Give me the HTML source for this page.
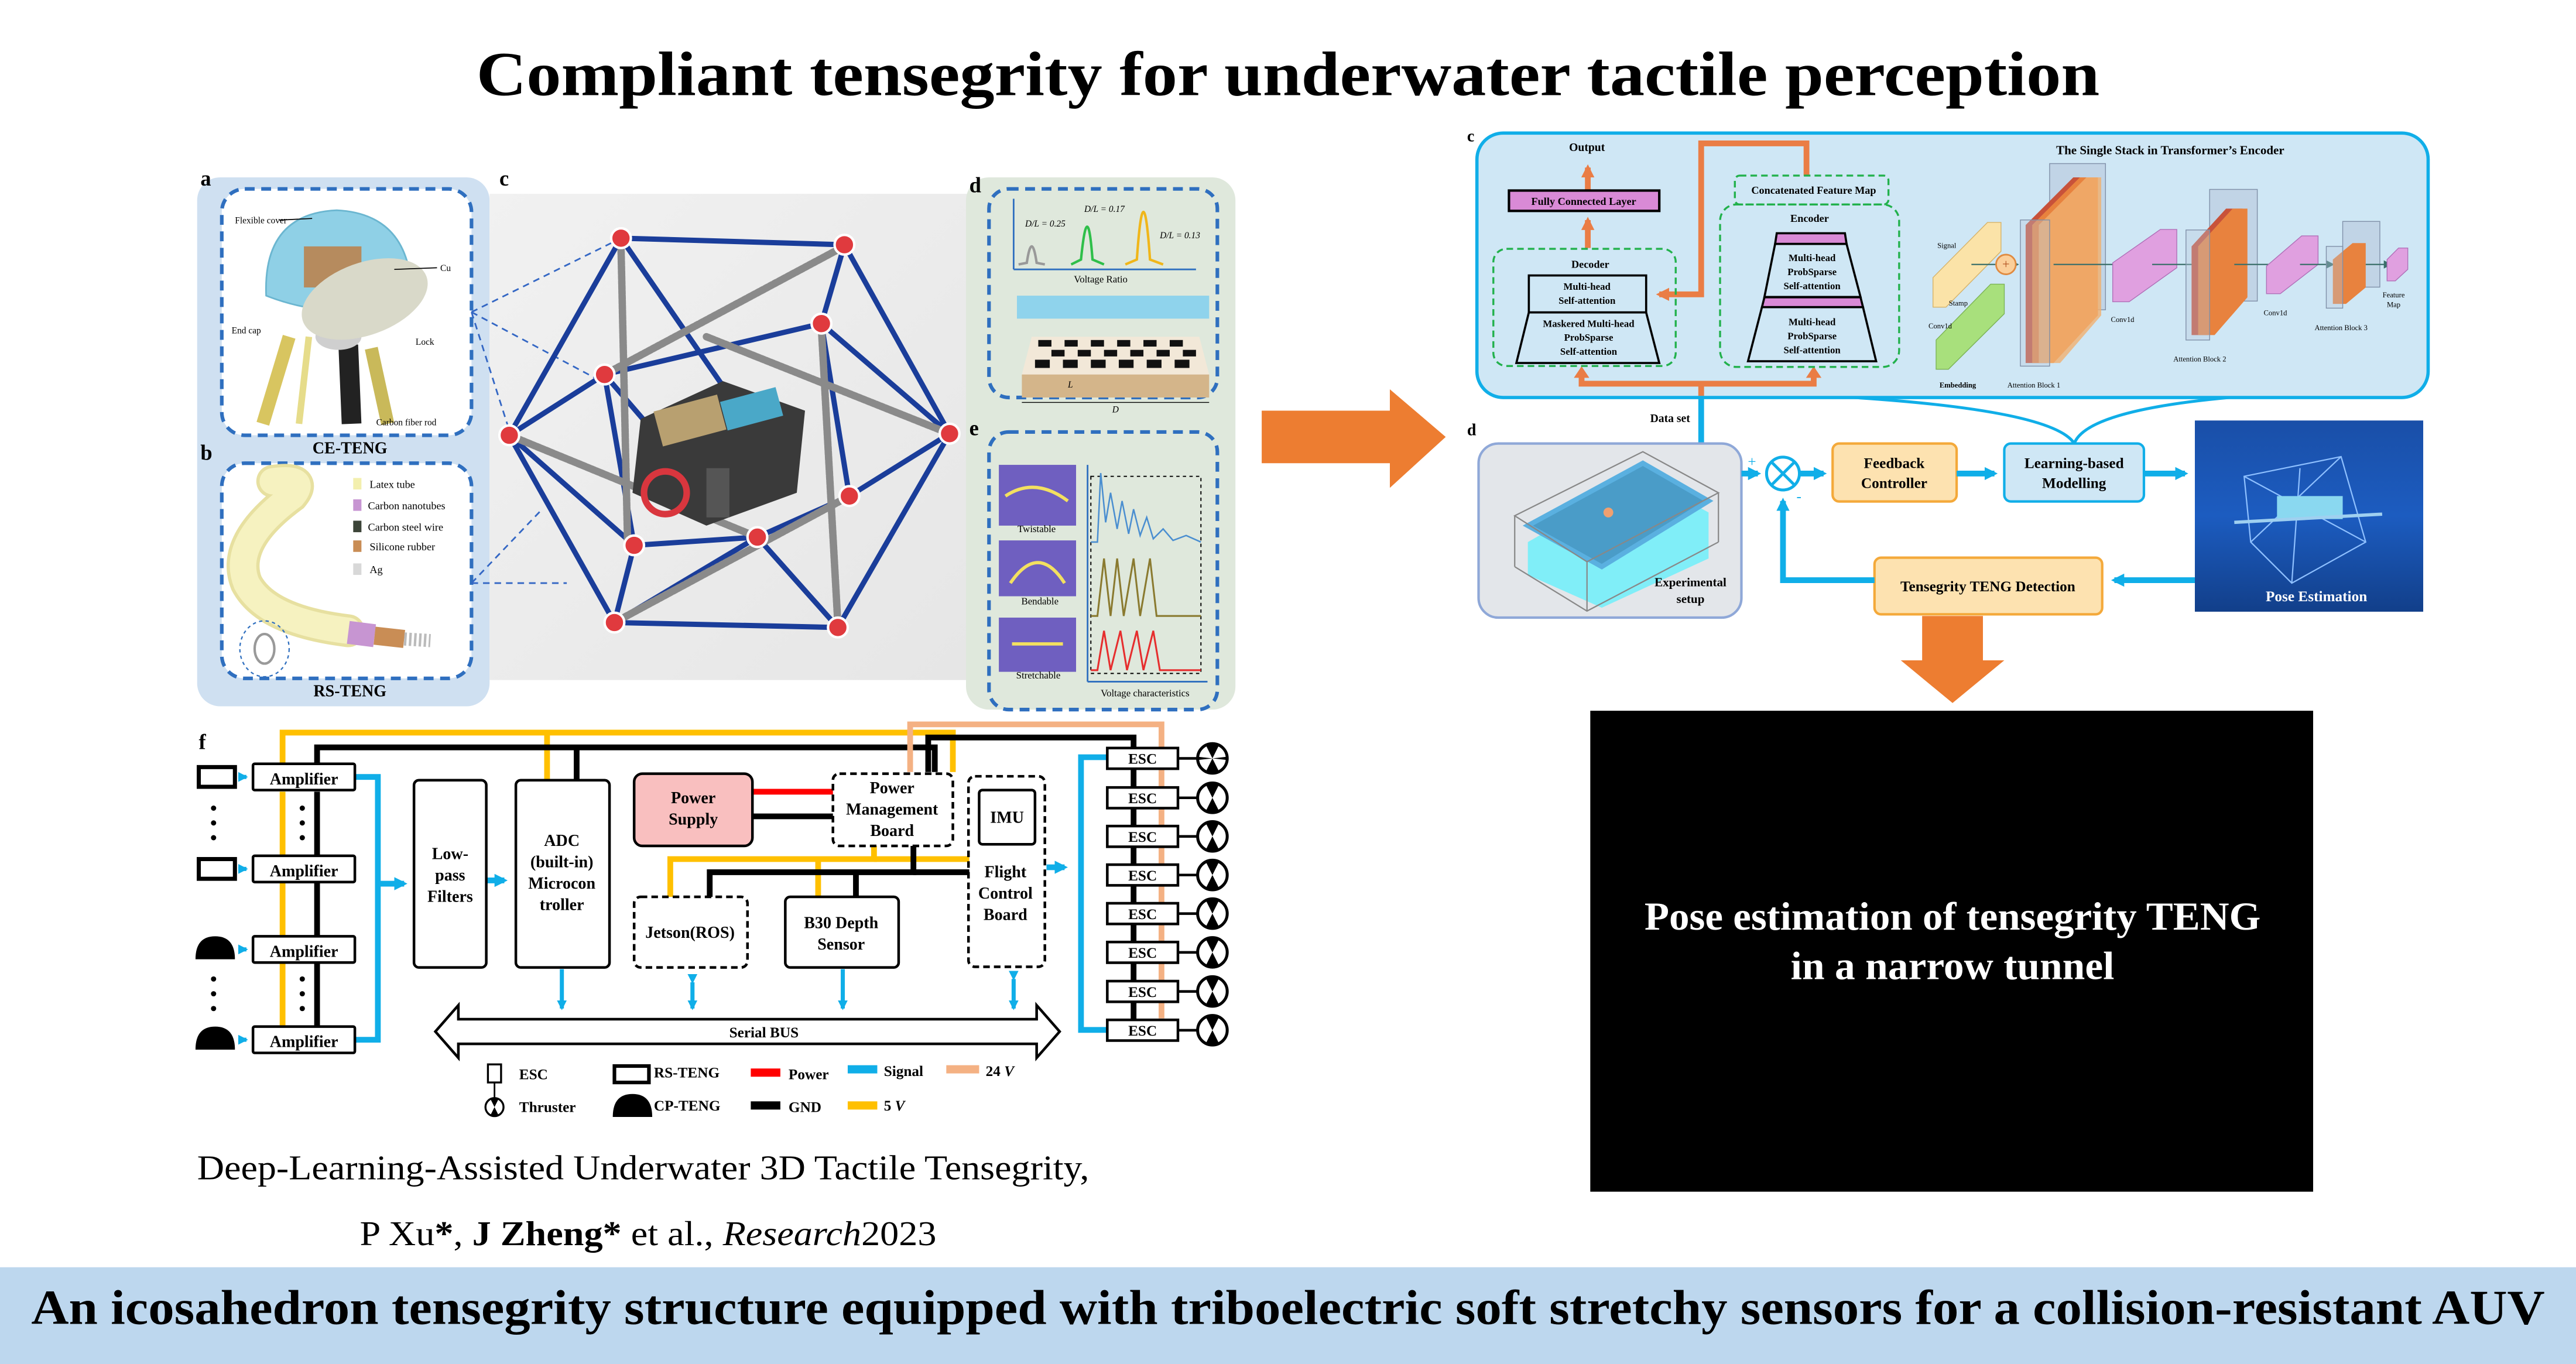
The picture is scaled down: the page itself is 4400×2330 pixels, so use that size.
<!DOCTYPE html>
<html><head><meta charset="utf-8"><style>
html,body{margin:0;padding:0;background:#fff;}
svg{display:block;}
text{font-family:"Liberation Serif",serif;}
</style></head><body>
<svg width="4400" height="2330" viewBox="0 0 1568 830.4" preserveAspectRatio="none" xmlns="http://www.w3.org/2000/svg">
<defs>
<marker id="ab" markerWidth="6" markerHeight="6" refX="5" refY="3" orient="auto" markerUnits="userSpaceOnUse"><path d="M0,0 L6,3 L0,6 z" fill="#10aee8"/></marker>
<marker id="ab2" markerWidth="8" markerHeight="8" refX="6" refY="4" orient="auto" markerUnits="userSpaceOnUse"><path d="M0,0 L8,4 L0,8 z" fill="#10aee8"/></marker>
<marker id="ao" markerWidth="8" markerHeight="8" refX="6" refY="4" orient="auto" markerUnits="userSpaceOnUse"><path d="M0,0 L8,4 L0,8 z" fill="#ea7d45"/></marker>
<marker id="ak" markerWidth="5" markerHeight="5" refX="4" refY="2.5" orient="auto" markerUnits="userSpaceOnUse"><path d="M0,0 L5,2.5 L0,5 z" fill="#3b6f6a"/></marker>
<linearGradient id="gc" x1="0" y1="0" x2="1" y2="1"><stop offset="0" stop-color="#f1f1f1"/><stop offset="1" stop-color="#e6e6e6"/></linearGradient>
<linearGradient id="gp" x1="0" y1="0" x2="0" y2="1"><stop offset="0" stop-color="#1a4fa8"/><stop offset="0.5" stop-color="#1c5cc0"/><stop offset="1" stop-color="#123f8a"/></linearGradient>
</defs>

<!-- Title -->
<text x="784" y="58" font-size="38" font-weight="bold" text-anchor="middle" textLength="988" lengthAdjust="spacingAndGlyphs">Compliant tensegrity for underwater tactile perception</text>

<!-- ===== Panel a/b ===== -->
<rect x="120" y="108" width="178" height="322" rx="14" fill="#cfe0f1"/>
<text x="122" y="113" font-size="13" font-weight="bold">a</text>
<text x="122" y="280" font-size="13" font-weight="bold">b</text>
<rect x="135" y="115" width="152" height="150" rx="14" fill="#fff" stroke="#2f6fbf" stroke-width="2.2" stroke-dasharray="6,4"/>
<rect x="135" y="282" width="152" height="131" rx="14" fill="#fff" stroke="#2f6fbf" stroke-width="2.2" stroke-dasharray="6,4"/>
<text x="213" y="276" font-size="10" font-weight="bold" text-anchor="middle">CE-TENG</text>
<text x="213" y="424" font-size="10" font-weight="bold" text-anchor="middle">RS-TENG</text>
<!-- a drawing -->
<line x1="176" y1="205" x2="160" y2="258" stroke="#d8c560" stroke-width="8"/>
<line x1="188" y1="205" x2="182" y2="258" stroke="#e6dc8a" stroke-width="4"/>
<line x1="212" y1="210" x2="214" y2="258" stroke="#222" stroke-width="12"/>
<line x1="226" y1="212" x2="236" y2="258" stroke="#c9b95a" stroke-width="8"/>
<ellipse cx="206" cy="205" rx="14" ry="8" fill="#cfcfcf"/>
<path d="M162,180 Q160,130 205,128 Q245,130 250,170 L240,185 Q200,195 162,180z" fill="#8fd0e6" stroke="#6bb6d0"/>
<rect x="185" y="150" width="35" height="25" fill="#b68b5e"/>
<ellipse cx="222" cy="182" rx="40" ry="22" fill="#d9d9c9" transform="rotate(-20 222 182)"/>
<g font-size="5.5" fill="#000">
<text x="143" y="136">Flexible cover</text><line x1="170" y1="134" x2="190" y2="133" stroke="#000" stroke-width="0.6"/>
<text x="268" y="165">Cu</text><line x1="240" y1="164" x2="266" y2="163" stroke="#000" stroke-width="0.6"/>
<text x="141" y="203">End cap</text>
<text x="253" y="210">Lock</text>
<text x="229" y="259">Carbon fiber rod</text>
</g>
<!-- b drawing -->
<path d="M166,293 Q188,290 178,302 Q140,330 150,355 Q162,378 212,384" fill="none" stroke="#e7e0a0" stroke-width="20" stroke-linecap="round"/>
<path d="M166,293 Q188,290 178,302 Q140,330 150,355 Q162,378 212,384" fill="none" stroke="#f6f2c0" stroke-width="16" stroke-linecap="round"/>
<line x1="212" y1="385" x2="228" y2="387" stroke="#c795d2" stroke-width="14"/>
<line x1="228" y1="387" x2="246" y2="389" stroke="#c98d55" stroke-width="11"/>
<line x1="246" y1="389" x2="262" y2="390" stroke="#bbb" stroke-width="8" stroke-dasharray="1.5,1.5"/>
<ellipse cx="161" cy="395" rx="15" ry="17" fill="none" stroke="#2f6fbf" stroke-width="0.8" stroke-dasharray="2,2"/>
<ellipse cx="161" cy="395" rx="6" ry="9" fill="none" stroke="#999" stroke-width="1.5"/>
<g font-size="6.5">
<rect x="215" y="291" width="5" height="7" fill="#f3efae"/><text x="225" y="297">Latex tube</text>
<rect x="215" y="304" width="5" height="7" fill="#c795d2"/><text x="224" y="310">Carbon nanotubes</text>
<rect x="215" y="317" width="5" height="7" fill="#3c4438"/><text x="224" y="323">Carbon steel wire</text>
<rect x="215" y="329" width="5" height="7" fill="#c98d55"/><text x="225" y="335">Silicone rubber</text>
<rect x="215" y="343" width="5" height="7" fill="#d8d8d8"/><text x="225" y="349">Ag</text>
</g>

<!-- ===== Panel c (robot) ===== -->
<rect x="298" y="118" width="292" height="296" fill="url(#gc)"/>
<text x="304" y="113" font-size="13" font-weight="bold">c</text>
<g stroke="#3467c4" stroke-width="1" stroke-dasharray="4,3" fill="none">
<line x1="287" y1="190" x2="372" y2="148"/><line x1="287" y1="190" x2="362" y2="230"/>
<line x1="287" y1="355" x2="330" y2="310"/><line x1="287" y1="355" x2="345" y2="355"/>
<line x1="287" y1="190" x2="310" y2="262"/>
</g>
<g stroke-linecap="round">
<g stroke="#1a3d9a" stroke-width="3.2">
<line x1="378" y1="145" x2="514" y2="149"/>
<line x1="374" y1="379" x2="510" y2="382"/>
<line x1="378" y1="145" x2="310" y2="265"/>
<line x1="514" y1="149" x2="578" y2="264"/>
<line x1="310" y1="265" x2="374" y2="379"/>
<line x1="578" y1="264" x2="510" y2="382"/>
<line x1="378" y1="145" x2="440" y2="235"/>
<line x1="514" y1="149" x2="500" y2="197"/>
<line x1="368" y1="228" x2="500" y2="197"/>
<line x1="310" y1="265" x2="368" y2="228"/>
<line x1="578" y1="264" x2="517" y2="302"/>
<line x1="517" y1="302" x2="461" y2="327"/>
<line x1="386" y1="332" x2="461" y2="327"/>
<line x1="310" y1="265" x2="386" y2="332"/>
<line x1="374" y1="379" x2="461" y2="327"/>
<line x1="510" y1="382" x2="461" y2="327"/>
<line x1="500" y1="197" x2="517" y2="302"/>
<line x1="500" y1="197" x2="578" y2="264"/>
<line x1="368" y1="228" x2="386" y2="332"/>
<line x1="368" y1="228" x2="430" y2="300"/>
<line x1="386" y1="332" x2="374" y2="379"/>
</g>
<g stroke="#8a8a8a" stroke-width="4.5" stroke-dasharray="2,1">
<line x1="378" y1="150" x2="382" y2="330"/>
<line x1="510" y1="152" x2="368" y2="228"/>
<line x1="310" y1="265" x2="461" y2="327"/>
<line x1="430" y1="205" x2="578" y2="264"/>
<line x1="500" y1="200" x2="510" y2="380"/>
<line x1="517" y1="302" x2="374" y2="379"/>
</g>
</g>
<!-- body -->
<path d="M390,255 L440,232 L490,250 L485,300 L430,320 L385,300z" fill="#3a3a3a"/>
<rect x="400" y="245" width="40" height="22" fill="#b8a070" transform="rotate(-15 420 256)"/>
<rect x="440" y="240" width="35" height="18" fill="#4aa8c8" transform="rotate(-15 457 249)"/>
<circle cx="405" cy="300" r="13" fill="none" stroke="#d9363e" stroke-width="4"/>
<rect x="430" y="285" width="14" height="30" fill="#555"/>
<g fill="#e03a3e" stroke="#fff" stroke-width="1.5">
<circle cx="378" cy="145" r="6"/><circle cx="514" cy="149" r="6"/><circle cx="500" cy="197" r="6"/>
<circle cx="368" cy="228" r="6"/><circle cx="310" cy="265" r="6"/><circle cx="578" cy="264" r="6"/>
<circle cx="517" cy="302" r="6"/><circle cx="461" cy="327" r="6"/><circle cx="386" cy="332" r="6"/>
<circle cx="374" cy="379" r="6"/><circle cx="510" cy="382" r="6"/>
</g>

<!-- ===== Panel d/e ===== -->
<rect x="588" y="108" width="164" height="324" rx="14" fill="#dfe8dc"/>
<text x="590" y="117" font-size="13" font-weight="bold">d</text>
<text x="590" y="265" font-size="13" font-weight="bold">e</text>
<rect x="602" y="115" width="139" height="127" rx="12" fill="none" stroke="#2f6fbf" stroke-width="2.2" stroke-dasharray="6,4"/>
<rect x="602" y="263" width="139" height="169" rx="12" fill="none" stroke="#2f6fbf" stroke-width="2.2" stroke-dasharray="6,4"/>
<line x1="617" y1="164" x2="617" y2="121" stroke="#2f6fbf" stroke-width="1"/>
<line x1="617" y1="164" x2="728" y2="164" stroke="#2f6fbf" stroke-width="1"/>
<path d="M620,161 L625,160 Q628,140 631,160 L636,161" fill="none" stroke="#999" stroke-width="1.5"/>
<path d="M652,161 L658,158 Q662,118 665,158 L672,161" fill="none" stroke="#2fbf4a" stroke-width="1.5"/>
<path d="M685,161 L692,158 Q696,100 700,158 L708,161" fill="none" stroke="#f0b61a" stroke-width="1.5"/>
<g font-size="5.5" font-style="italic"><text x="624" y="138">D/L = 0.25</text><text x="660" y="129">D/L = 0.17</text><text x="706" y="145">D/L = 0.13</text></g>
<text x="670" y="172" font-size="6" text-anchor="middle">Voltage Ratio</text>
<rect x="619" y="180" width="117" height="14" fill="#8fd3ec"/>
<path d="M628,205 L730,205 L736,228 L622,228z" fill="#f2e8d8"/>
<g fill="#111"><rect x="632" y="207" width="8" height="4"/><rect x="648" y="207" width="8" height="4"/><rect x="664" y="207" width="8" height="4"/><rect x="680" y="207" width="8" height="4"/><rect x="696" y="207" width="8" height="4"/><rect x="712" y="207" width="8" height="4"/>
<rect x="640" y="213" width="8" height="4"/><rect x="656" y="213" width="8" height="4"/><rect x="672" y="213" width="8" height="4"/><rect x="688" y="213" width="8" height="4"/><rect x="704" y="213" width="8" height="4"/><rect x="720" y="213" width="8" height="4"/>
<rect x="630" y="219" width="9" height="5" /><rect x="647" y="219" width="9" height="5"/><rect x="664" y="219" width="9" height="5"/><rect x="681" y="219" width="9" height="5"/><rect x="698" y="219" width="9" height="5"/><rect x="715" y="219" width="9" height="5"/></g>
<rect x="622" y="228" width="114" height="14" fill="#d4b58a"/>
<text x="650" y="236" font-size="5.5" font-style="italic">L</text>
<line x1="622" y1="245" x2="736" y2="245" stroke="#000" stroke-width="0.5"/>
<text x="677" y="251" font-size="5.5" font-style="italic">D</text>
<!-- e -->
<rect x="608" y="283" width="47" height="37" fill="#6f5fc0"/><path d="M612,302 Q630,290 650,305" stroke="#f3e060" stroke-width="2" fill="none"/>
<rect x="608" y="329" width="47" height="34" fill="#6f5fc0"/><path d="M615,355 Q632,330 648,355" stroke="#f3e060" stroke-width="2" fill="none"/>
<rect x="608" y="376" width="47" height="33" fill="#6f5fc0"/><line x1="616" y1="392" x2="647" y2="392" stroke="#f3e060" stroke-width="2"/>
<g font-size="6" text-anchor="middle"><text x="631" y="324">Twistable</text><text x="633" y="368">Bendable</text><text x="632" y="413">Stretchable</text></g>
<line x1="662" y1="415" x2="662" y2="283" stroke="#2f6fbf"/><line x1="662" y1="415" x2="735" y2="415" stroke="#2f6fbf"/>
<rect x="664" y="290" width="67" height="120" fill="none" stroke="#000" stroke-width="0.7" stroke-dasharray="2,2"/>
<path d="M664,330 L668,330 L670,288 L673,318 L676,300 L680,322 L683,305 L687,325 L690,310 L694,326 L698,315 L702,328 L708,322 L714,329 L722,326 L731,330" fill="none" stroke="#4a8ed0" stroke-width="0.9"/>
<path d="M664,375 L668,375 L672,340 L676,375 L680,340 L684,375 L690,340 L694,375 L700,340 L704,375 L731,375" fill="none" stroke="#8a7a30" stroke-width="1.1"/>
<path d="M664,408 L668,408 L672,384 L676,408 L682,384 L686,408 L692,384 L696,408 L702,384 L706,408 L731,408" fill="none" stroke="#e62e2e" stroke-width="1.1"/>
<text x="697" y="424" font-size="6" text-anchor="middle">Voltage characteristics</text>

<!-- big orange arrow -->
<path d="M768,250 L846,250 L846,237 L880,266 L846,297 L846,282 L768,282z" fill="#ed7d31"/>

<!-- ===== Panel f ===== -->
<text x="121" y="456" font-size="13" font-weight="bold">f</text>
<g fill="none" stroke-linejoin="miter">
<!-- yellow 5V -->
<polyline points="172,470 172,446 580,446 580,470" stroke="#ffc000" stroke-width="3.5"/>
<line x1="333" y1="446" x2="333" y2="475" stroke="#ffc000" stroke-width="3.5"/>
<line x1="172" y1="482" x2="172" y2="625" stroke="#ffc000" stroke-width="3.5"/>
<!-- black GND -->
<polyline points="193,470 193,455 569,455 569,470" stroke="#000" stroke-width="3.5"/>
<line x1="351" y1="455" x2="351" y2="475" stroke="#000" stroke-width="3.5"/>
<line x1="193" y1="482" x2="193" y2="625" stroke="#000" stroke-width="3.5"/>
<!-- 24V -->
<polyline points="554,470 554,441 707,441 707,620" stroke="#f4b183" stroke-width="3.5"/>
<polyline points="565,470 565,449 690,449 690,627" stroke="#000" stroke-width="3.5"/>
<!-- power lines -->
<line x1="458" y1="482" x2="507" y2="482" stroke="#f00" stroke-width="3.5"/>
<line x1="458" y1="497" x2="507" y2="497" stroke="#000" stroke-width="3.5"/>
<!-- under PMB -->
<polyline points="532,515 532,523 408,523 408,546" stroke="#ffc000" stroke-width="3.5"/>
<line x1="532" y1="523" x2="590" y2="523" stroke="#ffc000" stroke-width="3.5"/>
<line x1="498" y1="523" x2="498" y2="546" stroke="#ffc000" stroke-width="3.5"/>
<polyline points="556,515 556,531 432,531 432,546" stroke="#000" stroke-width="3.5"/>
<line x1="556" y1="531" x2="590" y2="531" stroke="#000" stroke-width="3.5"/>
<line x1="521" y1="531" x2="521" y2="546" stroke="#000" stroke-width="3.5"/>
<!-- signal -->
<polyline points="216,473 230,473 230,633 216,633" stroke="#10aee8" stroke-width="3.5"/>
<line x1="230" y1="538" x2="246" y2="538" stroke="#10aee8" stroke-width="3.5" marker-end="url(#ab2)"/>
<line x1="296" y1="536" x2="307" y2="536" stroke="#10aee8" stroke-width="3.5" marker-end="url(#ab2)"/>
<line x1="637" y1="528" x2="648" y2="528" stroke="#10aee8" stroke-width="3.5" marker-end="url(#ab2)"/>
<polyline points="674,461 658,461 658,627 674,627" stroke="#10aee8" stroke-width="3.5"/>
<line x1="145" y1="473" x2="150" y2="473" stroke="#10aee8" stroke-width="2.5" marker-end="url(#ab)"/>
<line x1="145" y1="529" x2="150" y2="529" stroke="#10aee8" stroke-width="2.5" marker-end="url(#ab)"/>
<line x1="145" y1="578" x2="150" y2="578" stroke="#10aee8" stroke-width="2.5" marker-end="url(#ab)"/>
<line x1="145" y1="633" x2="150" y2="633" stroke="#10aee8" stroke-width="2.5" marker-end="url(#ab)"/>
<line x1="342" y1="590" x2="342" y2="614" stroke="#10aee8" stroke-width="2.5" marker-end="url(#ab)"/>
<line x1="513" y1="590" x2="513" y2="614" stroke="#10aee8" stroke-width="2.5" marker-end="url(#ab)"/>
<line x1="421.5" y1="598" x2="421.5" y2="614" stroke="#10aee8" stroke-width="2.5" marker-end="url(#ab)" marker-start="url(#ab)"/>
<line x1="617" y1="596" x2="617" y2="614" stroke="#10aee8" stroke-width="2.5" marker-end="url(#ab)" marker-start="url(#ab)"/>
</g>
<!-- boxes -->
<g stroke="#000" stroke-width="1.6" fill="#fff">
<rect x="154" y="465" width="62" height="16" rx="1"/>
<rect x="154" y="521" width="62" height="16" rx="1"/>
<rect x="154" y="570" width="62" height="16" rx="1"/>
<rect x="154" y="625" width="62" height="16" rx="1"/>
<rect x="252" y="475" width="44" height="114" rx="3"/>
<rect x="314" y="475" width="57" height="114" rx="3"/>
<rect x="386" y="471" width="72" height="44" rx="5" fill="#f9bfbf"/>
<rect x="596" y="481" width="34" height="33" rx="2"/>
<rect x="478" y="546" width="69" height="43" rx="3"/>
</g>
<g stroke="#000" stroke-width="1.6" fill="none" stroke-dasharray="4,2.5">
<rect x="507" y="471" width="73" height="44" rx="4"/>
<rect x="589.5" y="472.6" width="46.5" height="116" rx="4"/>
<rect x="386" y="546" width="69" height="43" rx="4"/>
</g>
<g font-size="10" font-weight="bold" text-anchor="middle">
<text x="185" y="477.5">Amplifier</text><text x="185" y="533.5">Amplifier</text><text x="185" y="582.5">Amplifier</text><text x="185" y="637.5">Amplifier</text>
<text x="274" y="523">Low-</text><text x="274" y="536">pass</text><text x="274" y="549">Filters</text>
<text x="342" y="515">ADC</text><text x="342" y="528">(built-in)</text><text x="342" y="541">Microcon</text><text x="342" y="554">troller</text>
<text x="422" y="489">Power</text><text x="422" y="502">Supply</text>
<text x="543" y="483">Power</text><text x="543" y="496">Management</text><text x="543" y="509">Board</text>
<text x="613" y="501">IMU</text>
<text x="612" y="534">Flight</text><text x="612" y="547">Control</text><text x="612" y="560">Board</text>
<text x="420" y="571">Jetson(ROS)</text>
<text x="512" y="565">B30 Depth</text><text x="512" y="578">Sensor</text>
</g>
<!-- sensors -->
<g fill="#fff" stroke="#000" stroke-width="2.5"><rect x="121" y="467" width="22" height="12"/><rect x="121" y="523" width="22" height="12"/></g>
<path d="M119,584 Q119,570 131,570 Q143,570 143,584z" fill="#000"/>
<path d="M119,639 Q119,625 131,625 Q143,625 143,639z" fill="#000"/>
<g fill="#000"><circle cx="130" cy="492" r="1.6"/><circle cx="130" cy="501" r="1.6"/><circle cx="130" cy="510" r="1.6"/>
<circle cx="184" cy="492" r="1.6"/><circle cx="184" cy="501" r="1.6"/><circle cx="184" cy="510" r="1.6"/>
<circle cx="130" cy="596" r="1.6"/><circle cx="130" cy="605" r="1.6"/><circle cx="130" cy="614" r="1.6"/>
<circle cx="184" cy="596" r="1.6"/><circle cx="184" cy="605" r="1.6"/><circle cx="184" cy="614" r="1.6"/></g>
<!-- serial bus -->
<path d="M265,628 L279,612 L279,620.5 L631,620.5 L631,612 L645,628 L631,644 L631,635.5 L279,635.5 L279,644z" fill="#fff" stroke="#000" stroke-width="1.6"/>
<text x="465" y="631.5" font-size="9" font-weight="bold" text-anchor="middle">Serial BUS</text>
<!-- ESCs + thrusters -->
<g id="esc">
<g stroke="#000" stroke-width="1.6">
<line x1="717" y1="461.7" x2="729" y2="461.7"/><line x1="717" y1="485.7" x2="729" y2="485.7"/><line x1="717" y1="509.2" x2="729" y2="509.2"/><line x1="717" y1="532.7" x2="729" y2="532.7"/>
<line x1="717" y1="556.2" x2="729" y2="556.2"/><line x1="717" y1="579.8" x2="729" y2="579.8"/><line x1="717" y1="603.6" x2="729" y2="603.6"/><line x1="717" y1="627.2" x2="729" y2="627.2"/>
</g>
<g stroke="#000" stroke-width="1.6" fill="#fff">
<rect x="674" y="455.4" width="43" height="12.6"/><rect x="674" y="479.4" width="43" height="12.6"/><rect x="674" y="502.9" width="43" height="12.6"/><rect x="674" y="526.4" width="43" height="12.6"/>
<rect x="674" y="549.9" width="43" height="12.6"/><rect x="674" y="573.5" width="43" height="12.6"/><rect x="674" y="597.3" width="43" height="12.6"/><rect x="674" y="620.9" width="43" height="12.6"/>
</g>
<g font-size="9" font-weight="bold" text-anchor="middle">
<text x="695.5" y="465">ESC</text><text x="695.5" y="489">ESC</text><text x="695.5" y="512.5">ESC</text><text x="695.5" y="536">ESC</text>
<text x="695.5" y="559.5">ESC</text><text x="695.5" y="583">ESC</text><text x="695.5" y="607">ESC</text><text x="695.5" y="630.5">ESC</text>
</g>
</g>
<g id="thr">
<g transform="translate(738,461.7)"><circle r="9" fill="#fff" stroke="#000" stroke-width="1.8"/><path d="M0,0 L-4,-8 A9,9 0 0 1 4,-8z M0,0 L-4,8 A9,9 0 0 0 4,8z M0,0 L-9,-1 L-9,1z M0,0 L9,-1 L9,1z" fill="#000"/></g>
<g transform="translate(738,485.7)"><circle r="9" fill="#fff" stroke="#000" stroke-width="1.8"/><path d="M0,0 L-4,-8 A9,9 0 0 1 4,-8z M0,0 L-4,8 A9,9 0 0 0 4,8z" fill="#000"/></g>
<g transform="translate(738,509.2)"><circle r="9" fill="#fff" stroke="#000" stroke-width="1.8"/><path d="M0,0 L-4,-8 A9,9 0 0 1 4,-8z M0,0 L-4,8 A9,9 0 0 0 4,8z" fill="#000"/></g>
<g transform="translate(738,532.7)"><circle r="9" fill="#fff" stroke="#000" stroke-width="1.8"/><path d="M0,0 L-4,-8 A9,9 0 0 1 4,-8z M0,0 L-4,8 A9,9 0 0 0 4,8z" fill="#000"/></g>
<g transform="translate(738,556.2)"><circle r="9" fill="#fff" stroke="#000" stroke-width="1.8"/><path d="M0,0 L-4,-8 A9,9 0 0 1 4,-8z M0,0 L-4,8 A9,9 0 0 0 4,8z" fill="#000"/></g>
<g transform="translate(738,579.8)"><circle r="9" fill="#fff" stroke="#000" stroke-width="1.8"/><path d="M0,0 L-4,-8 A9,9 0 0 1 4,-8z M0,0 L-4,8 A9,9 0 0 0 4,8z" fill="#000"/></g>
<g transform="translate(738,603.6)"><circle r="9" fill="#fff" stroke="#000" stroke-width="1.8"/><path d="M0,0 L-4,-8 A9,9 0 0 1 4,-8z M0,0 L-4,8 A9,9 0 0 0 4,8z" fill="#000"/></g>
<g transform="translate(738,627.2)"><circle r="9" fill="#fff" stroke="#000" stroke-width="1.8"/><path d="M0,0 L-4,-8 A9,9 0 0 1 4,-8z M0,0 L-4,8 A9,9 0 0 0 4,8z" fill="#000"/></g>
</g>
<!-- legend -->
<rect x="297" y="648" width="8" height="11" fill="#fff" stroke="#000" stroke-width="1.2"/>
<line x1="301" y1="659" x2="301" y2="668" stroke="#000"/>
<g transform="translate(301,674)"><circle r="5.5" fill="#fff" stroke="#000" stroke-width="1.2"/><path d="M0,0 L-2.5,-5 A5.5,5.5 0 0 1 2.5,-5z M0,0 L-2.5,5 A5.5,5.5 0 0 0 2.5,5z" fill="#000"/></g>
<rect x="374" y="649" width="21" height="10" fill="#fff" stroke="#000" stroke-width="2.2"/>
<path d="M373,680 Q373,666 385,666 Q397,666 397,680z" fill="#000"/>
<rect x="457" y="650.5" width="18" height="5" fill="#f00"/>
<rect x="457" y="670.5" width="18" height="5" fill="#000"/>
<rect x="516" y="648.5" width="18" height="5" fill="#10aee8"/>
<rect x="516" y="670.5" width="18" height="5" fill="#ffc000"/>
<rect x="576" y="648.5" width="20" height="5" fill="#f4b183"/>
<g font-size="9" font-weight="bold">
<text x="316" y="657">ESC</text><text x="316" y="677">Thruster</text>
<text x="398" y="656">RS-TENG</text><text x="398" y="676">CP-TENG</text>
<text x="480" y="657">Power</text><text x="480" y="677">GND</text>
<text x="538" y="655">Signal</text><text x="538" y="676">5 <tspan font-style="italic">V</tspan></text>
<text x="600" y="655">24 <tspan font-style="italic">V</tspan></text>
</g>

<!-- citation -->
<text x="120" y="718" font-size="21" textLength="543" lengthAdjust="spacingAndGlyphs">Deep-Learning-Assisted Underwater 3D Tactile Tensegrity,</text>
<text x="219" y="758" font-size="21" textLength="351" lengthAdjust="spacingAndGlyphs">P Xu<tspan font-weight="bold">*</tspan>, <tspan font-weight="bold">J Zheng*</tspan> et al., <tspan font-style="italic">Research</tspan>2023</text>

<!-- ===== Right c panel ===== -->
<text x="893" y="86" font-size="10" font-weight="bold">c</text>
<rect x="899" y="81" width="579" height="161" rx="16" fill="#cfe7f5" stroke="#10aee8" stroke-width="2"/>
<text x="966" y="92" font-size="7" font-weight="bold" text-anchor="middle">Output</text>
<g stroke="#ea7d45" stroke-width="3.5" fill="none">
<line x1="966.5" y1="151" x2="966.5" y2="134" marker-end="url(#ao)"/>
<line x1="966.5" y1="116" x2="966.5" y2="102" marker-end="url(#ao)"/>
<polyline points="1099.6,107 1099.6,87.3 1035.5,87.3 1035.5,179.2 1010,179.2" marker-end="url(#ao)"/>
<polyline points="962.7,229 962.7,233.6 1104,233.6 1104,229"/>
<line x1="1035.5" y1="241" x2="1035.5" y2="233.6"/>
</g>
<path d="M958,230 L962.7,223 L967.4,230z M1099.3,230 L1104,223 L1108.7,230z" fill="#ea7d45"/>
<rect x="918.5" y="116" width="91.5" height="12.4" fill="#d98ad6" stroke="#000" stroke-width="1.5"/>
<text x="964" y="124.8" font-size="6.5" font-weight="bold" text-anchor="middle">Fully Connected Layer</text>
<rect x="909" y="151.5" width="111" height="71.3" rx="8" fill="none" stroke="#22b14c" stroke-width="1.2" stroke-dasharray="4,2.5"/>
<text x="968" y="163" font-size="6.5" font-weight="bold" text-anchor="middle">Decoder</text>
<rect x="930.6" y="167.7" width="71.4" height="22.5" fill="#cfe7f5" stroke="#000" stroke-width="1.3"/>
<path d="M930.6,190.2 L1002,190.2 L1010,221 L923,221z" fill="#cfe7f5" stroke="#000" stroke-width="1.3"/>
<g font-size="6" font-weight="bold" text-anchor="middle">
<text x="966" y="176.5">Multi-head</text><text x="966" y="185">Self-attention</text>
<text x="967" y="199">Maskered Multi-head</text><text x="967" y="207.5">ProbSparse</text><text x="967" y="216">Self-attention</text>
</g>
<rect x="1056" y="106.9" width="93.5" height="17.6" rx="3" fill="none" stroke="#22b14c" stroke-width="1.2" stroke-dasharray="4,2.5"/>
<text x="1104" y="118" font-size="6.5" font-weight="bold" text-anchor="middle">Concatenated Feature Map</text>
<rect x="1047" y="124.5" width="109" height="98.9" rx="10" fill="none" stroke="#22b14c" stroke-width="1.2" stroke-dasharray="4,2.5"/>
<text x="1101.5" y="135" font-size="6.5" font-weight="bold" text-anchor="middle">Encoder</text>
<path d="M1081.5,142 L1123,142 L1124,148.5 L1080.5,148.5z" fill="#d98ad6" stroke="#000" stroke-width="1.3"/>
<path d="M1080.5,148.5 L1124,148.5 L1132.5,180.8 L1074,180.8z" fill="#cfe7f5" stroke="#000" stroke-width="1.3"/>
<path d="M1074,181 L1132.5,181 L1134,187 L1072.5,187z" fill="#d98ad6" stroke="#000" stroke-width="1.3"/>
<path d="M1072.5,187 L1134,187 L1142,219.9 L1064,219.9z" fill="#cfe7f5" stroke="#000" stroke-width="1.3"/>
<g font-size="6" font-weight="bold" text-anchor="middle">
<text x="1103" y="159">Multi-head</text><text x="1103" y="167.5">ProbSparse</text><text x="1103" y="176">Self-attention</text>
<text x="1103" y="198">Multi-head</text><text x="1103" y="206.5">ProbSparse</text><text x="1103" y="215">Self-attention</text>
</g>
<!-- transformer stack -->
<text x="1321" y="94" font-size="7.5" font-weight="bold" text-anchor="middle">The Single Stack in Transformer’s Encoder</text>
<path d="M1176.6,187 L1176.6,169 L1209.8,135.4 L1218,135.4 L1218,153 L1184.5,187z" fill="#fbe3a8" stroke="#d6b36a" stroke-width="0.5"/>
<path d="M1178.5,224.8 L1178.5,207 L1211.7,173 L1220,173 L1220,191 L1186,224.8z" fill="#a8e07c" stroke="#7cb456" stroke-width="0.5"/>
<line x1="1200" y1="161" x2="1228" y2="161" stroke="#3b6f6a" stroke-width="0.8" marker-end="url(#ak)"/>
<circle cx="1221" cy="161" r="6" fill="#fbcf9a" stroke="#e08a40"/>
<text x="1221" y="163.5" font-size="8" text-anchor="middle" fill="#b05020">+</text>
<!-- AB1 -->
<rect x="1247.6" y="99.6" width="34" height="89" fill="#b8c8dc" fill-opacity="0.6" stroke="#8090a8" stroke-width="0.5"/>
<path d="M1233,221 L1233,137 L1262,108 L1275,108 L1275,192 L1246,221z" fill="#c8523a"/>
<path d="M1237,221 L1237,137 L1266,108 L1277,108 L1277,192 L1250,221z" fill="#e8823e"/>
<path d="M1241,221 L1241,137 L1270,108 L1279,108 L1279,192 L1254,221z" fill="#f0b070" fill-opacity="0.8"/>
<rect x="1229.8" y="133.9" width="17.8" height="89" fill="#b8c8dc" fill-opacity="0.35" stroke="#8090a8" stroke-width="0.5"/>
<line x1="1250" y1="161" x2="1300" y2="161" stroke="#3b6f6a" stroke-width="0.8" marker-end="url(#ak)"/>
<path d="M1286,183.7 L1286,160 L1315,139.7 L1325,139.7 L1325,163 L1296,183.7z" fill="#e0a0e0" stroke="#b070b8" stroke-width="0.5"/>
<line x1="1310" y1="161" x2="1340" y2="161" stroke="#3b6f6a" stroke-width="0.8" marker-end="url(#ak)"/>
<!-- AB2 -->
<rect x="1345" y="115.3" width="29" height="68" fill="#b8c8dc" fill-opacity="0.6" stroke="#8090a8" stroke-width="0.5"/>
<path d="M1334,204 L1334,150 L1355,127 L1365,127 L1365,181 L1344,204z" fill="#c8523a"/>
<path d="M1338,204 L1338,150 L1359,127 L1368,127 L1368,181 L1348,204z" fill="#e8823e"/>
<rect x="1330.6" y="140" width="14.4" height="67" fill="#b8c8dc" fill-opacity="0.35" stroke="#8090a8" stroke-width="0.5"/>
<line x1="1360" y1="161" x2="1395" y2="161" stroke="#3b6f6a" stroke-width="0.8" marker-end="url(#ak)"/>
<path d="M1379.6,178.8 L1379.6,162 L1401,143.6 L1411,143.6 L1411,161 L1388,178.8z" fill="#e0a0e0" stroke="#b070b8" stroke-width="0.5"/>
<line x1="1400" y1="161" x2="1420" y2="161" stroke="#3b6f6a" stroke-width="0.8" marker-end="url(#ak)"/>
<!-- AB3 -->
<rect x="1426" y="134.8" width="22.6" height="40" fill="#b8c8dc" fill-opacity="0.6" stroke="#8090a8" stroke-width="0.5"/>
<path d="M1420,185 L1420,158 L1432,148 L1440,148 L1440,175 L1428,185z" fill="#e8823e"/>
<rect x="1416" y="150" width="10" height="37.6" fill="#b8c8dc" fill-opacity="0.35" stroke="#8090a8" stroke-width="0.5"/>
<line x1="1440" y1="161" x2="1455" y2="161" stroke="#3b6f6a" stroke-width="0.8" marker-end="url(#ak)"/>
<path d="M1453,171 L1453,158 L1460,151 L1465.6,151 L1465.6,164 L1458,171z" fill="#e0a0e0" stroke="#b070b8" stroke-width="0.5"/>
<g font-size="4.5" text-anchor="middle">
<text x="1191.7" y="236" font-weight="bold">Embedding</text>
<text x="1238" y="236">Attention Block 1</text>
<text x="1339" y="220">Attention Block 2</text>
<text x="1425" y="201">Attention Block 3</text>
<text x="1292" y="196">Conv1d</text><text x="1385" y="192">Conv1d</text>
<text x="1457" y="181">Feature</text><text x="1457" y="187">Map</text>
<text x="1185" y="151">Signal</text><text x="1192" y="186">Stamp</text><text x="1181" y="200">Conv1d</text>
</g>

<!-- ===== Right d panel ===== -->
<text x="893" y="265" font-size="10" font-weight="bold">d</text>
<line x1="1035.5" y1="241" x2="1035.5" y2="270" stroke="#10aee8" stroke-width="3.5"/>
<text x="1016.6" y="257" font-size="7" font-weight="bold" text-anchor="middle">Data set</text>
<path d="M1128.7,242 Q1250,250 1262.6,270 Q1270,250 1357,242" fill="none" stroke="#10aee8" stroke-width="1.8"/>
<rect x="900" y="270" width="160" height="106" rx="12" fill="#e3e6ea" stroke="#8fa8d8" stroke-width="1.5"/>
<path d="M930,330 L1000,290 L1040,312 L1040,340 L975,370 L930,350z" fill="#80eef8"/>
<path d="M930,320 L1000,282 L1040,305 L975,345z" fill="#4a9cc8" stroke="#5ab0e0" stroke-width="3"/>
<g stroke="#888" stroke-width="0.8" fill="none"><path d="M922,314 L1000,275 L1046,300 L966,342z"/><path d="M922,345 L966,372 L1046,330"/><line x1="922" y1="314" x2="922" y2="345"/><line x1="966" y1="342" x2="966" y2="372"/><line x1="1046" y1="300" x2="1046" y2="330"/></g>
<circle cx="979" cy="312" r="3" fill="#f0a070"/>
<text x="1029" y="357" font-size="7.5" font-weight="bold" text-anchor="middle">Experimental</text>
<text x="1029" y="367" font-size="7.5" font-weight="bold" text-anchor="middle">setup</text>
<line x1="1060" y1="288.3" x2="1070" y2="288.3" stroke="#10aee8" stroke-width="3.5" marker-end="url(#ab2)"/>
<text x="1066.4" y="284" font-size="9" fill="#10aee8" text-anchor="middle">+</text>
<text x="1095" y="305" font-size="9" fill="#10aee8" text-anchor="middle">-</text>
<circle cx="1085.3" cy="288.3" r="10" fill="#fff" stroke="#10aee8" stroke-width="1.8"/>
<path d="M1078.2,281.2 L1092.4,295.4 M1092.4,281.2 L1078.2,295.4" stroke="#10aee8" stroke-width="1.8"/>
<line x1="1095.3" y1="288.3" x2="1110" y2="288.3" stroke="#10aee8" stroke-width="3.5" marker-end="url(#ab2)"/>
<rect x="1115.5" y="270" width="75.5" height="35.3" rx="4" fill="#fde2b0" stroke="#f4a93a" stroke-width="1.5"/>
<text x="1153" y="285" font-size="9" font-weight="bold" text-anchor="middle">Feedback</text>
<text x="1153" y="297" font-size="9" font-weight="bold" text-anchor="middle">Controller</text>
<line x1="1191" y1="288.3" x2="1214" y2="288.3" stroke="#10aee8" stroke-width="3.5" marker-end="url(#ab2)"/>
<rect x="1220" y="270" width="85" height="35.3" rx="4" fill="#cfe7f5" stroke="#10aee8" stroke-width="1.5"/>
<text x="1262.5" y="285" font-size="9" font-weight="bold" text-anchor="middle">Learning-based</text>
<text x="1262.5" y="297" font-size="9" font-weight="bold" text-anchor="middle">Modelling</text>
<line x1="1305" y1="288.3" x2="1330" y2="288.3" stroke="#10aee8" stroke-width="3.5" marker-end="url(#ab2)"/>
<rect x="1336" y="256" width="139" height="116.4" fill="url(#gp)"/>
<g stroke="#8ec0ff" stroke-width="0.8" fill="none"><path d="M1366,290 L1425,278 L1440,330 L1395,355 L1370,330z M1366,290 L1440,330 M1425,278 L1370,330 M1395,355 L1400,285"/></g>
<rect x="1386" y="302" width="40" height="14" fill="#8ad8f0"/>
<line x1="1360" y1="318" x2="1450" y2="313" stroke="#9fd0f0" stroke-width="2"/>
<text x="1410" y="366" font-size="9" font-weight="bold" fill="#fff" text-anchor="middle">Pose Estimation</text>
<line x1="1336" y1="353.2" x2="1287" y2="353.2" stroke="#10aee8" stroke-width="3.5" marker-end="url(#ab2)"/>
<rect x="1141" y="339.5" width="138.6" height="34.5" rx="4" fill="#fde2b0" stroke="#f4a93a" stroke-width="1.5"/>
<text x="1210" y="360" font-size="9" font-weight="bold" text-anchor="middle">Tensegrity TENG Detection</text>
<polyline points="1141,353.2 1085.3,353.2 1085.3,305" fill="none" stroke="#10aee8" stroke-width="3.5" marker-end="url(#ab2)"/>

<!-- down orange arrow -->
<path d="M1170,375 L1207,375 L1207,402 L1220,402 L1188.5,428 L1157,402 L1170,402z" fill="#ed7d31"/>

<!-- black box -->
<rect x="968" y="432.7" width="440" height="292.8" fill="#000"/>
<text x="1188.5" y="566" font-size="24" font-weight="bold" fill="#fff" text-anchor="middle" textLength="375" lengthAdjust="spacingAndGlyphs">Pose estimation of tensegrity TENG</text>
<text x="1188.5" y="596" font-size="24" font-weight="bold" fill="#fff" text-anchor="middle" textLength="197" lengthAdjust="spacingAndGlyphs">in a narrow tunnel</text>

<!-- bottom band -->
<rect x="0" y="771.5" width="1568" height="58.9" fill="#bdd7ee"/>
<text x="784" y="806" font-size="30" font-weight="bold" text-anchor="middle" textLength="1530" lengthAdjust="spacingAndGlyphs">An icosahedron tensegrity structure equipped with triboelectric soft stretchy sensors for a collision-resistant AUV</text>
</svg>
</body></html>
